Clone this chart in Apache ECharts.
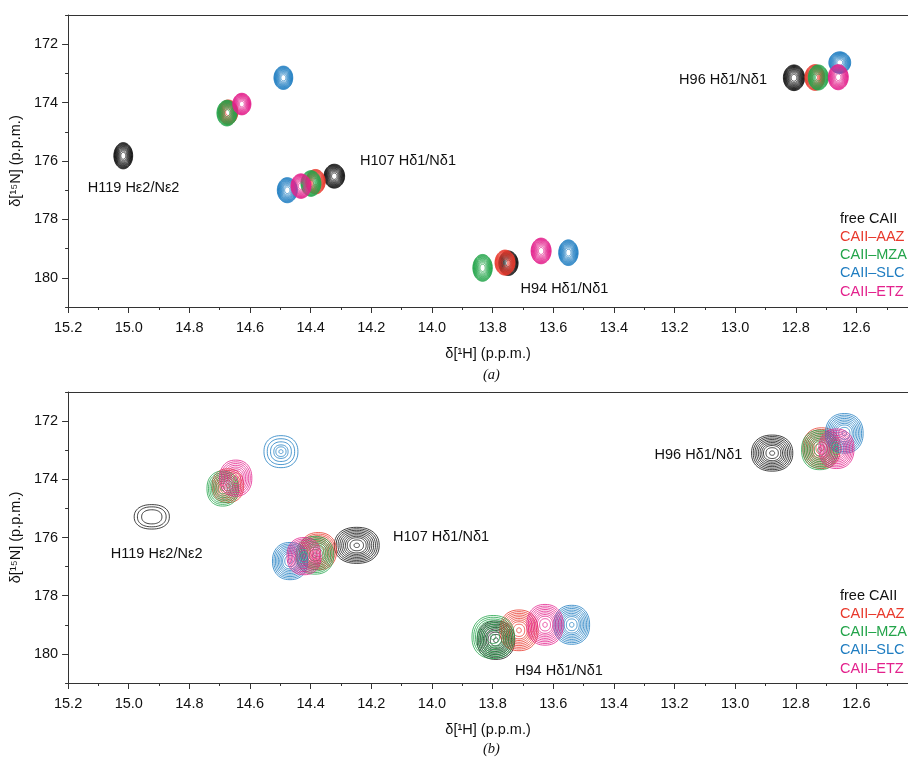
<!DOCTYPE html>
<html><head><meta charset="utf-8">
<script src="https://cdn.jsdelivr.net/npm/echarts@6/dist/echarts.min.js"></script>
<style>html,body{margin:0;padding:0;background:#fff}#c{width:908px;height:757px}</style>
</head><body><div id="c"></div>
<script>
// ---- data ----
const conditions = ['free CAII', 'CAII–AAZ', 'CAII–MZA', 'CAII–SLC', 'CAII–ETZ'];
const residueLabels = ['H119 Hε2/Nε2', 'H107 Hδ1/Nδ1', 'H96 Hδ1/Nδ1', 'H94 Hδ1/Nδ1'];
// peaks: [δ1H, δ15N, half-width 1H (ppm), half-width 15N (ppm), contour levels]; order H119, H107, H96, H94
const peaksA_free = [[15.018, 175.82, 0.031, 0.45, 14], [14.322, 176.52, 0.034, 0.41, 14], [12.806, 173.15, 0.035, 0.44, 14], [13.748, 179.50, 0.032, 0.42, 14]];
const peaksA_AAZ  = [[14.672, 174.33, 0.032, 0.42, 14], [14.384, 176.71, 0.032, 0.42, 14], [12.737, 173.14, 0.033, 0.44, 14], [13.759, 179.48, 0.033, 0.43, 14]];
const peaksA_MZA  = [[14.676, 174.36, 0.033, 0.44, 14], [14.399, 176.77, 0.033, 0.44, 14], [12.726, 173.14, 0.033, 0.43, 14], [13.833, 179.66, 0.032, 0.46, 14]];
const peaksA_SLC  = [[14.490, 173.15, 0.031, 0.40, 14], [14.477, 177.00, 0.033, 0.43, 14], [12.655, 172.63, 0.036, 0.37, 14], [13.550, 179.14, 0.032, 0.44, 14]];
const peaksA_ETZ  = [[14.627, 174.05, 0.030, 0.37, 14], [14.432, 176.86, 0.033, 0.42, 14], [12.660, 173.13, 0.033, 0.43, 14], [13.640, 179.08, 0.033, 0.44, 14]];

const peaksB_free = [[14.924, 175.29, 0.058, 0.42, 3], [14.248, 176.27, 0.074, 0.62, 10], [12.878, 173.10, 0.068, 0.62, 10], [13.789, 179.53, 0.062, 0.66, 10]];
const peaksB_AAZ  = [[14.673, 174.22, 0.052, 0.58, 9], [14.375, 176.47, 0.060, 0.64, 10], [12.715, 172.93, 0.062, 0.70, 10], [13.713, 179.19, 0.063, 0.70, 10]];
const peaksB_MZA  = [[14.690, 174.32, 0.052, 0.60, 9], [14.386, 176.61, 0.062, 0.65, 10], [12.721, 172.99, 0.060, 0.68, 10], [13.798, 179.42, 0.070, 0.74, 10]];
const peaksB_SLC  = [[14.498, 173.05, 0.056, 0.55, 6], [14.468, 176.81, 0.058, 0.64, 10], [12.640, 172.42, 0.062, 0.68, 10], [13.539, 179.00, 0.059, 0.67, 10]];
const peaksB_ETZ  = [[14.647, 173.96, 0.053, 0.62, 9], [14.422, 176.64, 0.056, 0.64, 10], [12.666, 172.95, 0.058, 0.68, 10], [13.627, 179.00, 0.060, 0.70, 10]];

// label anchor points (data coordinates)
const labelPosA = [[14.984, 176.93], [14.079, 176.00], [13.040, 173.23], [13.563, 180.39]];
const labelPosB = [[14.908, 176.58], [13.970, 175.97], [13.121, 173.16], [13.581, 180.59]];

const xTickValues = [15.2, 15.0, 14.8, 14.6, 14.4, 14.2, 14.0, 13.8, 13.6, 13.4, 13.2, 13.0, 12.8, 12.6];
const xMinorTickValues = [15.1, 14.9, 14.7, 14.5, 14.3, 14.1, 13.9, 13.7, 13.5, 13.3, 13.1, 12.9, 12.7, 12.5];
const yTickValues = [172, 174, 176, 178, 180];
const yMinorTickValues = [171, 173, 175, 177, 179, 181];

// ---- style ----
const colors = ['#111111', '#e8392c', '#23a44a', '#1f7dc1', '#e3228d'];
const FONT = 'Liberation Sans, Arial, Helvetica, sans-serif';
const AX = '#333333';
const TXT = '#111111';
const X_MIN = 12.43, X_MAX = 15.2, Y_MIN = 171, Y_MAX = 181;

const chart = echarts.init(document.getElementById('c'), null, {renderer: 'canvas'});

function ringFraction(k, n, mode) {
  if (mode === 'dense' || n <= 4) return Math.sqrt(1 - k / n);
  if (k < n - 2) return 1 - 0.58 * k / (n - 3);
  return k === n - 2 ? 0.3 : 0.12;
}

function contourRenderer(lineWidth, power, mode) {
  return function (params, api) {
    const c = api.coord([api.value(0), api.value(1)]);
    const s = api.size([api.value(2), api.value(3)]);
    const n = api.value(4);
    const color = api.visual('color');
    const children = [];
    const seg = 56;
    for (let k = 0; k < n; k++) {
      const f = ringFraction(k, n, mode);
      const rx = s[0] * f, ry = s[1] * f;
      const pts = [];
      for (let i = 0; i < seg; i++) {
        const t = (i / seg) * Math.PI * 2;
        const ct = Math.cos(t), st = Math.sin(t);
        const px = rx * Math.sign(ct) * Math.pow(Math.abs(ct), 2 / power);
        const py = ry * Math.sign(st) * Math.pow(Math.abs(st), 2 / power);
        pts.push([c[0] + px, c[1] + py]);
      }
      children.push({type: 'polygon', shape: {points: pts}, style: {fill: null, stroke: color, lineWidth: lineWidth}, silent: true});
    }
    return {type: 'group', children: children};
  };
}

function textRenderer(params, api) {
  const c = api.coord([api.value(0), api.value(1)]);
  return {
    type: 'text', x: c[0], y: c[1], silent: true,
    style: {text: residueLabels[params.dataIndex], fontFamily: FONT, fontSize: 14.5, fill: TXT, align: 'center', verticalAlign: 'middle'}
  };
}

function axesFor(gridIndex) {
  const xs = [
    {
      type: 'value', gridIndex, min: X_MIN, max: X_MAX, inverse: true, position: 'bottom',
      name: 'δ[¹H] (p.p.m.)', nameLocation: 'middle', nameGap: 39,
      nameTextStyle: {fontFamily: FONT, fontSize: 14.5, color: TXT},
      axisLine: {show: true, lineStyle: {color: AX, width: 1}},
      axisTick: {show: true, length: 6, inside: false, lineStyle: {color: AX}, customValues: xTickValues},
      axisLabel: {show: true, fontFamily: FONT, fontSize: 14.5, color: TXT, margin: 13, customValues: xTickValues,
        formatter: v => Number(v).toFixed(1)},
      splitLine: {show: false}
    },
    {
      type: 'value', gridIndex, min: X_MIN, max: X_MAX, inverse: true, position: 'bottom',
      axisLine: {show: false},
      axisTick: {show: true, length: 3, inside: false, lineStyle: {color: AX}, customValues: xMinorTickValues},
      axisLabel: {show: false}, splitLine: {show: false}
    },
    {
      type: 'value', gridIndex, min: X_MIN, max: X_MAX, inverse: true, position: 'top',
      axisLine: {show: true, lineStyle: {color: AX, width: 1}},
      axisTick: {show: false}, axisLabel: {show: false}, splitLine: {show: false}
    }
  ];
  const ys = [
    {
      type: 'value', gridIndex, min: Y_MIN, max: Y_MAX, inverse: true, position: 'left',
      name: 'δ[¹⁵N] (p.p.m.)', nameLocation: 'middle', nameGap: 42, nameRotate: 90,
      nameTextStyle: {fontFamily: FONT, fontSize: 14.5, color: TXT},
      axisLine: {show: true, lineStyle: {color: AX, width: 1}},
      axisTick: {show: true, length: 6, inside: false, lineStyle: {color: AX}, customValues: yTickValues},
      axisLabel: {show: true, fontFamily: FONT, fontSize: 14.5, color: TXT, margin: 10, customValues: yTickValues},
      splitLine: {show: false}
    },
    {
      type: 'value', gridIndex, min: Y_MIN, max: Y_MAX, inverse: true, position: 'left',
      axisLine: {show: false},
      axisTick: {show: true, length: 3, inside: false, lineStyle: {color: AX}, customValues: yMinorTickValues},
      axisLabel: {show: false}, splitLine: {show: false}
    }
  ];
  return {xs, ys};
}

const A = axesFor(0), B = axesFor(1);
const peaksA = [peaksA_free, peaksA_AAZ, peaksA_MZA, peaksA_SLC, peaksA_ETZ];
const peaksB = [peaksB_free, peaksB_AAZ, peaksB_MZA, peaksB_SLC, peaksB_ETZ];

const series = [];
conditions.forEach((name, i) => {
  series.push({
    type: 'custom', name, xAxisIndex: 0, yAxisIndex: 0, coordinateSystem: 'cartesian2d',
    renderItem: contourRenderer(0.8, 2.0, 'dense'), itemStyle: {color: colors[i]},
    encode: {x: 0, y: 1}, data: peaksA[i], clip: false, animation: false
  });
});
conditions.forEach((name, i) => {
  series.push({
    type: 'custom', name, xAxisIndex: 3, yAxisIndex: 2, coordinateSystem: 'cartesian2d',
    renderItem: contourRenderer(0.8, 2.25, 'open'), itemStyle: {color: colors[i]},
    encode: {x: 0, y: 1}, data: peaksB[i], clip: false, animation: false
  });
});
series.push({type: 'custom', xAxisIndex: 0, yAxisIndex: 0, renderItem: textRenderer, encode: {x: 0, y: 1}, data: labelPosA, silent: true, animation: false});
series.push({type: 'custom', xAxisIndex: 3, yAxisIndex: 2, renderItem: textRenderer, encode: {x: 0, y: 1}, data: labelPosB, silent: true, animation: false});

function legendAt(top) {
  return {
    orient: 'vertical', left: 830, top, itemWidth: 0, itemHeight: 14, itemGap: 3.3,
    icon: 'rect', selectedMode: false,
    textStyle: {fontFamily: FONT, fontSize: 14.5},
    data: conditions.map((n, i) => ({name: n, textStyle: {color: colors[i]}, itemStyle: {opacity: 0}}))
  };
}

chart.setOption({
  backgroundColor: '#ffffff',
  animation: false,
  grid: [
    {left: 68, right: 0, top: 15, height: 292},
    {left: 68, right: 0, top: 392, height: 291}
  ],
  xAxis: A.xs.concat(B.xs),
  yAxis: A.ys.concat(B.ys),
  legend: [legendAt(206), legendAt(583)],
  graphic: [
    {type: 'text', left: 483, top: 368, style: {text: '(a)', fontFamily: 'Liberation Serif, Times New Roman, serif', fontStyle: 'italic', fontSize: 14.5, fill: TXT}},
    {type: 'text', left: 483, top: 742, style: {text: '(b)', fontFamily: 'Liberation Serif, Times New Roman, serif', fontStyle: 'italic', fontSize: 14.5, fill: TXT}}
  ],
  series
});
</script></body></html>
